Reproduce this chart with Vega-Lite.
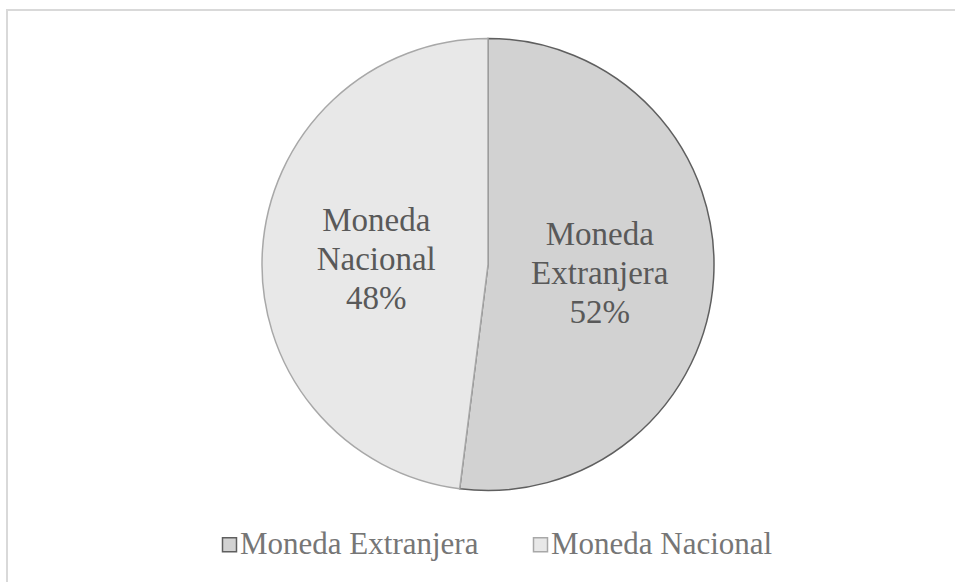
{
  "$schema": "https://vega.github.io/schema/vega-lite/v6.json",
  "width": 962,
  "height": 600,
  "autosize": {"type": "none"},
  "padding": {"left": 7, "top": 10, "right": 0, "bottom": 0},
  "background": "white",
  "view": {"stroke": "#d9d9d9", "strokeWidth": 2, "fill": "white"},
  "config": {
    "view": {"stroke": "#d9d9d9", "strokeWidth": 2},
    "font": "Liberation Serif"
  },
  "data": {
    "values": [
      {"moneda": "Moneda Extranjera", "pct": 52, "label": "Moneda\nExtranjera\n52%", "orden": 1},
      {"moneda": "Moneda Nacional", "pct": 48, "label": "Moneda\nNacional\n48%", "orden": 2}
    ]
  },
  "encoding": {
    "theta": {"field": "pct", "type": "quantitative", "stack": true},
    "order": {"field": "orden", "type": "quantitative"}
  },
  "layer": [
    {
      "mark": {"type": "arc", "radius": 226, "x": 481, "y": 254.5, "strokeWidth": 1.5},
      "encoding": {
        "color": {
          "field": "moneda",
          "type": "nominal",
          "scale": {"domain": ["Moneda Extranjera", "Moneda Nacional"], "range": ["#d2d2d2", "#e8e8e8"]},
          "legend": {
            "orient": "none",
            "legendX": 207,
            "legendY": 519,
            "direction": "horizontal",
            "title": null,
            "symbolType": "square",
            "symbolSize": 196,
            "symbolStrokeWidth": 1.5,
            "labelFont": "Liberation Serif",
            "labelFontSize": 31,
            "labelLimit": 0,
            "labelColor": "#767676",
            "labelOffset": -5,
            "columnPadding": 46
          }
        },
        "stroke": {
          "field": "moneda",
          "type": "nominal",
          "scale": {"domain": ["Moneda Extranjera", "Moneda Nacional"], "range": ["#5f5f5f", "#a8a8a8"]},
          "legend": null
        }
      }
    },
    {
      "mark": {
        "type": "text",
        "radius": 112,
        "x": 481,
        "y": 257,
        "dy": -39,
        "lineBreak": "\n",
        "font": "Liberation Serif",
        "fontSize": 33,
        "lineHeight": 39,
        "fill": "#595959",
        "align": "center",
        "baseline": "middle"
      },
      "encoding": {
        "text": {"field": "label", "type": "nominal"}
      }
    }
  ]
}
